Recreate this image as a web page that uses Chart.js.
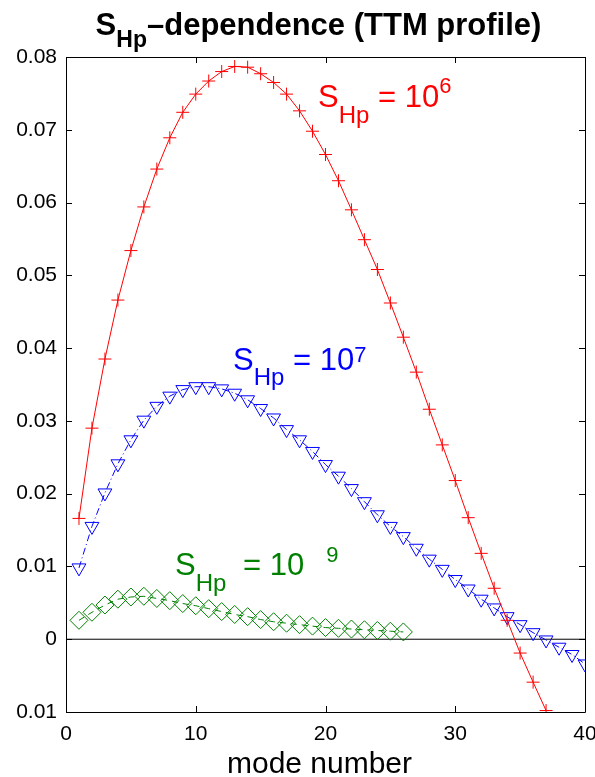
<!DOCTYPE html>
<html>
<head>
<meta charset="utf-8">
<script src="https://cdn.jsdelivr.net/npm/chart.js@4.4.0/dist/chart.umd.min.js"></script>
<style>
  html, body { margin: 0; padding: 0; background: #fff; }
  #wrap { width: 595px; height: 777px; }
</style>
</head>
<body>
<div id="wrap"><canvas id="chart"></canvas></div>
<script>
// values
const modesRed = [1,2,3,4,5,6,7,8,9,10,11,12,13,14,15,16,17,18,19,20,21,22,23,24,25,26,27,28,29,30,31,32,33,34,35,36,37];
const valuesRed = [0.0166,0.0290,0.0385,0.0466,0.0534,0.0594,0.0646,0.0689,0.0724,0.0749,0.0767,0.0780,0.0787,0.0786,0.0777,0.0765,0.0749,0.0726,0.0698,0.0666,0.0630,0.0590,0.0549,0.0508,0.0462,0.0415,0.0367,0.0316,0.0267,0.0218,0.0167,0.0118,0.0070,0.0026,-0.0019,-0.0059,-0.0098];

const modesBlue = [1,2,3,4,5,6,7,8,9,10,11,12,13,14,15,16,17,18,19,20,21,22,23,24,25,26,27,28,29,30,31,32,33,34,35,36,37,38,39,40];
const valuesBlue = [0.0098,0.0155,0.0201,0.0241,0.0274,0.0301,0.0320,0.0334,0.0343,0.0347,0.0347,0.0344,0.0338,0.0329,0.0317,0.0304,0.0288,0.0274,0.0258,0.0240,0.0224,0.0207,0.0189,0.0171,0.0155,0.0141,0.0125,0.0110,0.0096,0.0082,0.0069,0.0055,0.0043,0.0031,0.0020,0.0009,-0.0001,-0.0011,-0.0021,-0.0034];

const modesGreen = [1,2,3,4,5,6,7,8,9,10,11,12,13,14,15,16,17,18,19,20,21,22,23,24,25,26];
const valuesGreen = [0.0026,0.0037,0.0047,0.0055,0.0058,0.0059,0.0056,0.0053,0.0049,0.0046,0.0042,0.0038,0.0034,0.0031,0.0027,0.0024,0.0022,0.0020,0.0018,0.0016,0.0015,0.0014,0.0013,0.0012,0.0011,0.0010];

const zeroLineX = [0, 40];
const zeroLineY = [0, 0];

const xTicks = [0, 10, 20, 30, 40];
const yTicks = [-0.01, 0, 0.01, 0.02, 0.03, 0.04, 0.05, 0.06, 0.07, 0.08];
const yTickLabels = ['0.01', '0', '0.01', '0.02', '0.03', '0.04', '0.05', '0.06', '0.07', '0.08'];

const FONT = "'Liberation Sans', Arial, Helvetica, sans-serif";

const toPoints = (xs, ys) => xs.map((x, i) => ({ x: x, y: ys[i] }));

// draws "S_Hp = 10^n" style text piece by piece
function drawRich(ctx, x, y, parts, color, bold) {
    ctx.save();
    ctx.fillStyle = color;
    ctx.textBaseline = 'alphabetic';
    ctx.textAlign = 'left';
    let cx = x;
    parts.forEach(p => {
        ctx.font = (bold ? 'bold ' : '') + p.size + 'px ' + FONT;
        cx += p.gap || 0;
        ctx.fillText(p.t, cx, y + (p.dy || 0));
        cx += ctx.measureText(p.t).width;
    });
    ctx.restore();
    return cx - x;
}

function richWidth(ctx, parts, bold) {
    let w = 0;
    ctx.save();
    parts.forEach(p => {
        ctx.font = (bold ? 'bold ' : '') + p.size + 'px ' + FONT;
        w += (p.gap || 0) + ctx.measureText(p.t).width;
    });
    ctx.restore();
    return w;
}

const annotations = [
    { x: 19.42, y: 0.0731, color: '#ff0000', parts: [
        { t: 'S', size: 31 }, { t: 'Hp', size: 24, dy: 16 }, { t: ' = 10', size: 31 }, { t: '6', size: 22, dy: -14 }] },
    { x: 12.87, y: 0.0370, color: '#0000ff', parts: [
        { t: 'S', size: 31 }, { t: 'Hp', size: 24, dy: 15 }, { t: ' = 10', size: 31 }, { t: '7', size: 22, dy: -8 }] },
    { x: 8.40, y: 0.00878, color: '#008000', parts: [
        { t: 'S', size: 31 }, { t: 'Hp', size: 24, dy: 16 }, { t: ' = 10', size: 31, gap: 8 }, { t: '9', size: 22, dy: -13, gap: 22 }] }
];

const framePlugin = {
    id: 'matlabFrame',
    afterDraw(chart) {
        const ctx = chart.ctx;
        const a = chart.chartArea;
        const xs = chart.scales.x, ys = chart.scales.y;
        const tick = 6;

        ctx.save();
        ctx.strokeStyle = '#000';
        ctx.lineWidth = 1;
        ctx.beginPath();
        ctx.rect(a.left + 0.5, a.top + 0.5, a.right - a.left, a.bottom - a.top);
        xTicks.forEach(v => {
            const px = Math.round(xs.getPixelForValue(v)) + 0.5;
            ctx.moveTo(px, a.bottom); ctx.lineTo(px, a.bottom - tick);
            ctx.moveTo(px, a.top); ctx.lineTo(px, a.top + tick);
        });
        yTicks.forEach(v => {
            const py = Math.round(ys.getPixelForValue(v)) + 0.5;
            ctx.moveTo(a.left, py); ctx.lineTo(a.left + tick, py);
            ctx.moveTo(a.right, py); ctx.lineTo(a.right - tick, py);
        });
        ctx.stroke();
        ctx.restore();

        // title with subscript
        const titleParts = [{ t: 'S', size: 31 }, { t: 'Hp', size: 23, dy: 12 }, { t: '\u2013dependence (TTM profile)', size: 31 }];
        const tw = richWidth(ctx, titleParts, true);
        drawRich(ctx, (a.left + a.right) / 2 - 7 - tw / 2, 35, titleParts, '#000', true);

        // x axis label
        ctx.save();
        ctx.fillStyle = '#000';
        ctx.font = '30px ' + FONT;
        ctx.textAlign = 'center';
        ctx.textBaseline = 'alphabetic';
        ctx.fillText('mode number', (a.left + a.right) / 2 - 6, 773);
        ctx.restore();

        annotations.forEach(an => {
            drawRich(ctx, xs.getPixelForValue(an.x), ys.getPixelForValue(an.y), an.parts, an.color, false);
        });
    }
};

new Chart(document.getElementById('chart'), {
    type: 'line',
    data: {
        datasets: [
            {
                label: 'S_Hp = 10^6',
                data: toPoints(modesRed, valuesRed),
                borderColor: '#ff0000',
                borderWidth: 1,
                pointStyle: 'cross',
                pointRadius: 6.5,
                pointBorderColor: '#ff0000',
                pointBorderWidth: 1,
                fill: false,
                tension: 0
            },
            {
                label: 'S_Hp = 10^7',
                data: toPoints(modesBlue, valuesBlue),
                borderColor: '#0000ff',
                borderWidth: 1,
                borderDash: [7, 3, 1, 3],
                pointStyle: 'triangle',
                pointRotation: 180,
                pointRadius: 8,
                pointBackgroundColor: 'rgba(0,0,0,0)',
                pointBorderColor: '#0000ff',
                pointBorderWidth: 1,
                fill: false,
                tension: 0
            },
            {
                label: 'S_Hp = 10^9',
                data: toPoints(modesGreen, valuesGreen),
                borderColor: '#008000',
                borderWidth: 1,
                borderDash: [6, 5],
                pointStyle: 'rectRot',
                pointRadius: 9,
                pointBackgroundColor: 'rgba(0,0,0,0)',
                pointBorderColor: '#008000',
                pointBorderWidth: 1,
                fill: false,
                tension: 0
            },
            {
                label: 'zero',
                data: toPoints(zeroLineX, zeroLineY),
                borderColor: '#000',
                borderWidth: 1,
                pointRadius: 0,
                fill: false
            }
        ]
    },
    options: {
        responsive: true,
        maintainAspectRatio: false,
        animation: false,
        devicePixelRatio: 1,
        layout: { padding: { top: 57, right: 10, left: 0, bottom: 0 } },
        plugins: {
            legend: { display: false },
            title: { display: false },
            tooltip: { enabled: false }
        },
        scales: {
            x: {
                type: 'linear',
                min: 0,
                max: 40,
                ticks: {
                    stepSize: 10,
                    color: '#000',
                    font: { family: FONT, size: 21 },
                    padding: 10,
                    maxRotation: 0
                },
                grid: { display: false, drawTicks: false },
                border: { display: false },
                afterFit(s) { s.height = 65; s.paddingLeft = 0; s.paddingRight = 0; }
            },
            y: {
                type: 'linear',
                min: -0.01,
                max: 0.08,
                ticks: {
                    stepSize: 0.01,
                    color: '#000',
                    font: { family: FONT, size: 21 },
                    padding: 9,
                    callback: (v, i) => yTickLabels[i]
                },
                grid: { display: false, drawTicks: false },
                border: { display: false },
                afterFit(s) { s.width = 66; s.paddingTop = 0; s.paddingBottom = 0; }
            }
        }
    },
    plugins: [framePlugin]
});
</script>
</body>
</html>
